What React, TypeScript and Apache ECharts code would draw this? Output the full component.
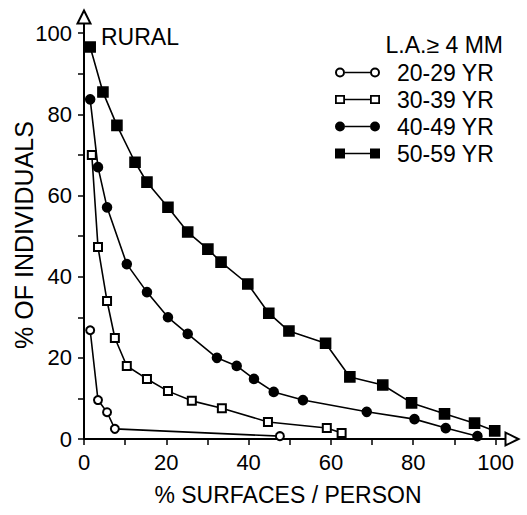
import React, { useEffect, useRef } from "react";
import * as echarts from "echarts";

const seriesNames = ["20-29 YR", "30-39 YR", "40-49 YR", "50-59 YR"];

const x20 = [1.5, 3.4, 5.6, 7.5, 47.6];
const y20 = [26.8, 9.6, 6.6, 2.5, 0.7];

const x30 = [1.9, 3.4, 5.6, 7.5, 10.4, 15.3, 20.4, 26.2, 33.5, 44.7, 59.0, 62.6];
const y30 = [70.0, 47.3, 34.0, 24.9, 18.0, 14.8, 11.8, 9.4, 7.6, 4.2, 2.7, 1.5];

const x40 = [1.5, 3.4, 5.6, 10.4, 15.3, 20.4, 25.2, 32.3, 37.1, 41.3, 46.1, 53.2, 68.7, 80.3, 87.9, 95.6];
const y40 = [83.7, 67.0, 57.1, 43.1, 36.2, 30.0, 25.9, 20.0, 18.0, 14.8, 11.6, 9.6, 6.7, 4.9, 2.7, 0.7];

const x50 = [1.5, 4.6, 8.0, 12.4, 15.3, 20.4, 25.2, 30.1, 33.3, 39.8, 44.9, 49.8, 58.7, 64.6, 72.6, 79.6, 87.6, 94.9, 99.8];
const y50 = [96.6, 85.5, 77.3, 68.2, 63.3, 57.1, 51.0, 46.8, 43.6, 38.2, 31.0, 26.6, 23.6, 15.3, 13.3, 8.9, 6.2, 3.9, 2.0];

const labelTicks = [0, 20, 40, 60, 80, 100];
const minorTicks = [0, 10, 20, 30, 40, 50, 60, 70, 80, 90, 100];

const FONT = "'Liberation Sans', Arial, Helvetica, sans-serif";

const LINE = "M10,4.3 H35 V5.7 H10 Z";
const ICON_OPEN_CIRCLE =
  "path://M0,5 A5,5 0 1,1 10,5 A5,5 0 1,1 0,5 Z M2,5 A3,3 0 1,0 8,5 A3,3 0 1,0 2,5 Z " +
  LINE +
  " M35,5 A5,5 0 1,1 45,5 A5,5 0 1,1 35,5 Z M37,5 A3,3 0 1,0 43,5 A3,3 0 1,0 37,5 Z";
const ICON_OPEN_RECT =
  "path://M0,0.5 H10 V9.5 H0 Z M1.8,2.3 V7.7 H8.2 V2.3 Z " +
  LINE +
  " M35,0.5 H45 V9.5 H35 Z M36.8,2.3 V7.7 H43.2 V2.3 Z";
const ICON_CIRCLE =
  "path://M0,5 A5,5 0 1,1 10,5 A5,5 0 1,1 0,5 Z " + LINE + " M35,5 A5,5 0 1,1 45,5 A5,5 0 1,1 35,5 Z";
const ICON_RECT = "path://M0,0 H10 V10 H0 Z " + LINE + " M35,0 H45 V10 H35 Z";

function pairs(xs: number[], ys: number[]) {
  return xs.map((x, i) => [x, ys[i]]);
}

export default function App() {
  const ref = useRef<HTMLDivElement>(null);
  useEffect(() => {
    if (!ref.current) return;
    const chart = echarts.init(ref.current, undefined, { renderer: "svg" });
    const axisCommon = {
      type: "value",
      min: 0,
      max: 104,
      interval: 10,
      splitLine: { show: false },
      nameMoveOverlap: false,
      axisLine: {
        show: true,
        symbol: ["none", "emptyTriangle"],
        symbolSize: [13, 13],
        lineStyle: { color: "#000", width: 2 },
      },
      axisTick: {
        show: true,
        inside: false,
        length: 6,
        customValues: minorTicks,
        lineStyle: { color: "#000", width: 1.5 },
      },
      axisLabel: {
        customValues: labelTicks,
        color: "#000",
        fontSize: 22,
        fontFamily: FONT,
      },
    };
    const mk = (name: string, data: number[][], symbol: string, size: number) => ({
      name,
      type: "line",
      data,
      symbol,
      symbolSize: size,
      showSymbol: true,
      lineStyle: { color: "#000", width: 1.6 },
      itemStyle: { color: "#000", borderColor: "#000", borderWidth: 1.6 },
      z: 3,
    });
    chart.setOption({
      animation: false,
      backgroundColor: "#fff",
      title: [
        {
          text: "RURAL",
          left: 101,
          top: 25,
          padding: 0,
          textStyle: { color: "#000", fontSize: 23, fontWeight: "normal", fontFamily: FONT },
        },
        {
          text: "L.A.\u2265 4 MM",
          right: 24,
          top: 33,
          padding: 0,
          textStyle: { color: "#000", fontSize: 23, fontWeight: "normal", fontFamily: FONT },
        },
      ],
      legend: {
        orient: "vertical",
        left: 335,
        top: 61,
        padding: 0,
        itemWidth: 45,
        itemHeight: 10,
        itemGap: 4,
        data: [
          { name: seriesNames[0], icon: ICON_OPEN_CIRCLE },
          { name: seriesNames[1], icon: ICON_OPEN_RECT },
          { name: seriesNames[2], icon: ICON_CIRCLE },
          { name: seriesNames[3], icon: ICON_RECT },
        ],
        itemStyle: { color: "#000", borderWidth: 0 },
        textStyle: {
          color: "#000",
          fontSize: 23,
          fontFamily: FONT,
          padding: [0, 0, 0, 12],
          lineHeight: 22,
        },
      },
      grid: { left: 84, right: 15, top: 17, bottom: 76, containLabel: false, outerBoundsMode: "none" },
      xAxis: {
        ...axisCommon,
        name: "% SURFACES / PERSON",
        nameLocation: "middle",
        nameGap: 44,
        nameTextStyle: { color: "#000", fontFamily: FONT, fontSize: 23, padding: [0, 20, 0, 0] },
        axisLabel: { ...axisCommon.axisLabel, margin: 12 },
      },
      yAxis: {
        ...axisCommon,
        name: "% OF INDIVIDUALS",
        nameLocation: "middle",
        nameGap: 48,
        nameTextStyle: { color: "#000", fontFamily: FONT, fontSize: 25, padding: [0, 14, 0, 0] },
        axisLabel: { ...axisCommon.axisLabel, margin: 12 },
      },
      series: [
        mk(seriesNames[0], pairs(x20, y20), "emptyCircle", 8),
        mk(seriesNames[1], pairs(x30, y30), "emptyRect", 8),
        mk(seriesNames[2], pairs(x40, y40), "circle", 9),
        mk(seriesNames[3], pairs(x50, y50), "rect", 10),
      ],
    });
    return () => chart.dispose();
  }, []);
  return (
    <div
      ref={ref}
      style={{ position: "fixed", left: 0, top: 0, width: 527, height: 515, background: "#fff" }}
    />
  );
}
